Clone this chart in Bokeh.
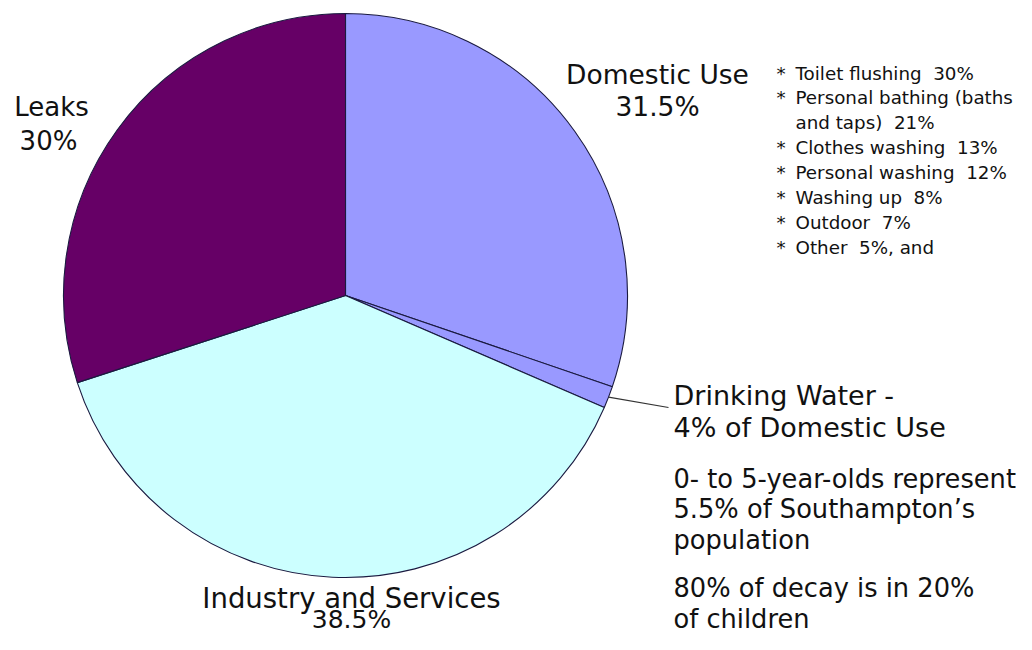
import math
from bokeh.plotting import figure
from bokeh.models import Range1d, ColumnDataSource
from bokeh.core.properties import value
from bokeh.embed import file_html
from bokeh.resources import INLINE

# ---- data ----
slice_names = ["Domestic Use", "Drinking Water", "Industry and Services", "Leaks"]
domestic_pct = 31.5
drinking_pct_of_domestic = 4
industry_pct = 38.5
leaks_pct = 30
slice_colors = ["#9999FF", "#9999FF", "#CCFFFF", "#660066"]

domestic_items = [
    "Toilet flushing  30%",
    "Personal bathing (baths\nand taps)  21%",
    "Clothes washing  13%",
    "Personal washing  12%",
    "Washing up  8%",
    "Outdoor  7%",
    "Other  5%, and",
]
drinking_label = ["Drinking Water -", "4% of Domestic Use"]
notes = [
    ["0- to 5-year-olds represent", "5.5% of Southampton\u2019s", "population"],
    ["80% of decay is in 20%", "of children"],
]

# ---- geometry (image pixel coordinates; y flipped) ----
W, H = 1016, 634
def Y(py):
    return 650 - py

cx, cy, R = 345, Y(295), 282
FONT = value("DejaVu Sans")

drinking_pct = domestic_pct * drinking_pct_of_domestic / 100
values = [domestic_pct - drinking_pct, drinking_pct, industry_pct, leaks_pct]
total = sum(values)
starts, ends = [], []
cum = 0.0
for v in values:
    starts.append(math.pi / 2 - 2 * math.pi * cum / total)
    cum += v
    ends.append(math.pi / 2 - 2 * math.pi * cum / total)

p = figure(width=W, height=H, output_backend="svg", toolbar_location=None,
           x_range=Range1d(0, W), y_range=Range1d(650 - H, 650), min_border=0)
p.axis.visible = False
p.grid.visible = False
p.outline_line_color = None
p.background_fill_color = "white"
p.border_fill_color = "white"

src = ColumnDataSource(dict(name=slice_names, start=starts, end=ends, color=slice_colors))
p.wedge(x=cx, y=cy, radius=R, radius_units="screen", start_angle="start", end_angle="end",
        direction="clock", fill_color="color", line_color="#1a1a40", line_width=1.1, source=src)

# leader line for drinking water slice
mid = (starts[1] + ends[1]) / 2
lx0 = cx + R * math.cos(mid)
ly0 = cy + R * math.sin(mid)
p.line([lx0, 668], [ly0, Y(407)], line_color="#333333", line_width=1.2)

def fmt(v):
    return f"{v:g}%"

# y values below are the vertical centres of the text lines
def label(x, y, t, size, align="center"):
    p.text(x=[x], y=[y], text=[t], text_font=FONT, text_font_size=value(size),
           text_align=align, text_baseline="alphabetic", text_color="#111111")

label(657, Y(73.5), slice_names[0], "26.5px")
label(657, Y(106), fmt(domestic_pct), "26.5px")
label(51, Y(106), slice_names[3], "26px")
label(48, Y(140.5), fmt(leaks_pct), "26px")
label(351, Y(597), slice_names[2], "27.5px")
label(351, Y(619), fmt(industry_pct), "25px")

for i, t in enumerate(drinking_label):
    label(673, Y(395 + 32 * i), t, "27px", "left")

base = 478
for block in notes:
    for i, t in enumerate(block):
        label(673, Y(base + 30.5 * i), t, "25.7px", "left")
    base += 30.5 * len(block) + 18

# bullet list
line = 0
for item in domestic_items:
    parts = item.split("\n")
    label(776, Y(72.5 + 24.9 * line), "*", "18.3px", "left")
    for part in parts:
        label(795, Y(72.5 + 24.9 * line), part.replace("  ", "\u00a0 "), "18.3px", "left")
        line += 1

open("out.html", "w").write(file_html(p, INLINE))
